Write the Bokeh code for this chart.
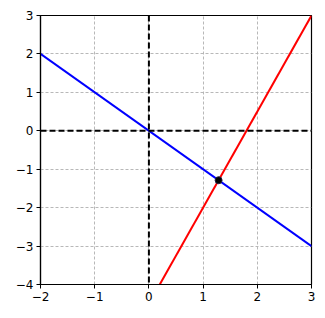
from bokeh.plotting import figure
from bokeh.models import Range1d, Span, FixedTicker
from bokeh.embed import file_html
from bokeh.resources import INLINE

# data
x_ends = [-2, 3]
blue_y = [2, -3]
red_y = [-9.5, 3]
inter_x = [1.286]
inter_y = [-1.286]
x_ticks = [-2, -1, 0, 1, 2, 3]
y_ticks = [-4, -3, -2, -1, 0, 1, 2, 3]

def lab(v):
    return ("\u2212" + str(abs(v))) if v < 0 else str(v)

p = figure(width=325, height=318, output_backend="svg", toolbar_location=None,
           x_range=Range1d(-2, 3), y_range=Range1d(-4, 3),
           min_border_left=40, min_border_right=14, min_border_top=15, min_border_bottom=34)
p.background_fill_color = "white"
p.border_fill_color = "white"
p.outline_line_color = "black"
p.outline_line_width = 1.2
p.outline_line_alpha = 1

for ax, ticks in ((p.xaxis[0], x_ticks), (p.yaxis[0], y_ticks)):
    ax.ticker = FixedTicker(ticks=ticks)
    ax.major_label_overrides = {t: lab(t) for t in ticks}
    ax.major_tick_in = 0
    ax.major_tick_out = 4
    ax.minor_tick_line_color = None
    ax.axis_line_color = "black"
    ax.axis_line_width = 1.2
    ax.major_tick_line_color = "black"
    ax.major_label_text_font = "DejaVu Sans"
    ax.major_label_text_font_size = "12px"
    ax.major_label_text_color = "black"
    ax.major_label_standoff = 3

for g in (p.xgrid[0], p.ygrid[0]):
    g.grid_line_color = "#b0b0b0"
    g.grid_line_dash = "3 2"
    g.grid_line_width = 0.9

p.add_layout(Span(location=0, dimension="width", line_color="black", line_dash="6 3", line_width=2))
p.add_layout(Span(location=0, dimension="height", line_color="black", line_dash="6 3", line_width=2))

p.line(x_ends, blue_y, line_color="blue", line_width=2)
p.line(x_ends, red_y, line_color="red", line_width=2)
p.scatter(inter_x, inter_y, size=7, fill_color="black", line_color="#202040")

open("out.html", "w").write(file_html(p, INLINE))
